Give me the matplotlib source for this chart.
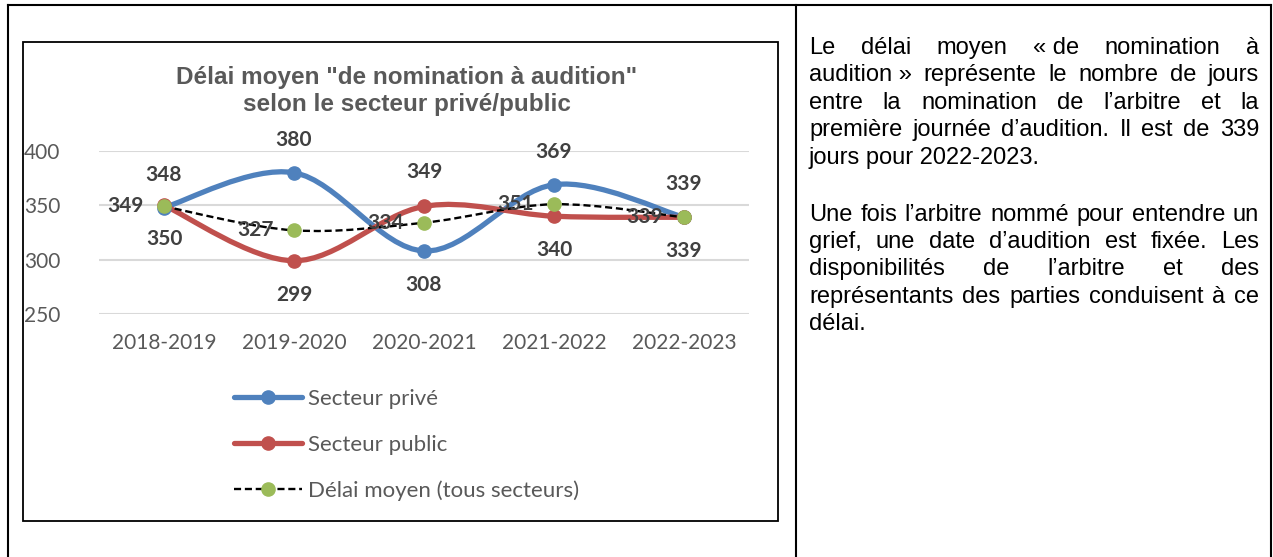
import numpy as np
import matplotlib
matplotlib.use("Agg")
import matplotlib.pyplot as plt
from matplotlib.path import Path
from matplotlib.patches import PathPatch, Rectangle
from matplotlib.lines import Line2D

# ---------------- données ----------------
annees = ["2018-2019", "2019-2020", "2020-2021", "2021-2022", "2022-2023"]
prive = [348, 380, 308, 369, 339]
public = [350, 299, 349, 340, 339]
moyen = [349, 327, 334, 351, 339]

noms = ["Secteur privé", "Secteur public", "Délai moyen (tous secteurs)"]
titre = 'Délai moyen "de nomination à audition"\nselon le secteur privé/public'

paragraphes = [
    ["Le délai moyen «\u00a0de nomination à",
     "audition\u00a0» représente le nombre de jours",
     "entre la nomination de l’arbitre et la",
     "première journée d’audition. Il est de 339",
     "jours pour 2022-2023."],
    ["Une fois l’arbitre nommé pour entendre un",
     "grief, une date d’audition est fixée. Les",
     "disponibilités de l’arbitre et des",
     "représentants des parties conduisent à ce",
     "délai."],
]

W, H = 1273, 557
BLEU, ROUGE, VERT = "#4F81BD", "#C0504D", "#9BBB59"
GRIS = "#595959"
POLICE = "Lato"


def fx(px):
    return px / W


def fy(py):
    return 1 - py / H


def courbe_lissee(x, y):
    # courbe lisse façon Excel (segments de Bézier)
    pts = np.column_stack([x, y]).astype(float)
    n = len(pts)
    verts = [pts[0]]
    codes = [Path.MOVETO]
    for i in range(n - 1):
        p0 = pts[max(i - 1, 0)]
        p1 = pts[i]
        p2 = pts[i + 1]
        p3 = pts[min(i + 2, n - 1)]
        verts += [p1 + (p2 - p0) / 6, p2 - (p3 - p1) / 6, p2]
        codes += [Path.CURVE4] * 3
    return Path(verts, codes)


fig = plt.figure(figsize=(W / 100, H / 100), dpi=100)

# ---------------- cadres ----------------
k = dict(color="black", lw=1.5, transform=fig.transFigure)
fig.add_artist(Line2D([fx(8), fx(1271)], [fy(5), fy(5)], **k))
fig.add_artist(Line2D([fx(8), fx(8)], [fy(5), 0], **k))
fig.add_artist(Line2D([fx(796), fx(796)], [fy(5), 0], **k))
fig.add_artist(Line2D([fx(1271), fx(1271)], [fy(5), 0], **k))
fig.add_artist(Rectangle((fx(23), fy(521)), fx(778) - fx(23), fy(42) - fy(521),
                         fill=False, ec="black", lw=1.3, transform=fig.transFigure))

# ---------------- graphique ----------------
ax = fig.add_axes([fx(99), fy(314), fx(749) - fx(99), fy(151) - fy(314)])
x = np.arange(len(annees))
ax.set_xlim(-0.5, len(annees) - 0.5)
ax.set_ylim(250, 400)
ax.set_yticks([250, 300, 350, 400])
ax.set_xticks(x)
ax.set_xticklabels(annees)
for s in ax.spines.values():
    s.set_visible(False)
ax.grid(axis="y", color="#D9D9D9", lw=1.5)
ax.set_axisbelow(True)
ax.tick_params(length=0, labelsize=15, labelcolor=GRIS, pad=14)
ax.tick_params(axis="y", pad=28)
for t in ax.get_xticklabels() + ax.get_yticklabels():
    t.set_fontfamily(POLICE)

ax.add_patch(PathPatch(courbe_lissee(x, prive), fill=False, ec=BLEU, lw=3.8,
                       capstyle="round", clip_on=False, zorder=3))
ax.add_patch(PathPatch(courbe_lissee(x, public), fill=False, ec=ROUGE, lw=3.8,
                       capstyle="round", clip_on=False, zorder=3))
ax.add_patch(PathPatch(courbe_lissee(x, moyen), fill=False, ec="black", lw=1.7,
                       ls=(0, (3, 1.6)), clip_on=False, zorder=4))
ax.plot(x, prive, "o", color=BLEU, ms=9.5, clip_on=False, zorder=5)
ax.plot(x, public, "o", color=ROUGE, ms=9.5, clip_on=False, zorder=5)
ax.plot(x, moyen, "o", color=VERT, ms=9.5, clip_on=False, zorder=6)

et = dict(fontsize=15, fontweight="bold", color="#404040", family=POLICE,
          ha="center", va="center", zorder=7)
for i in range(len(annees)):
    dy_p = -34 if i == 2 else 33
    ax.annotate(str(prive[i]), (x[i], prive[i]), xytext=(0, dy_p * 0.72),
                textcoords="offset points", **et)
    dy_q = 34 if i == 2 else -34
    ax.annotate(str(public[i]), (x[i], public[i]), xytext=(0, dy_q * 0.72),
                textcoords="offset points", **et)
    ax.annotate(str(moyen[i]), (x[i], moyen[i]), xytext=(-39 * 0.72, 0),
                textcoords="offset points", **et)

fig.text(fx(407), fy(91), titre, ha="center", va="center", fontsize=17.5,
         fontweight="bold", color=GRIS, family="Liberation Sans", linespacing=1.25)

poignees = [
    Line2D([], [], color=BLEU, lw=3.8, marker="o", ms=9.5, solid_capstyle="round"),
    Line2D([], [], color=ROUGE, lw=3.8, marker="o", ms=9.5, solid_capstyle="round"),
    Line2D([], [], color="black", lw=1.7, ls=(0, (3, 1.6)), marker="o", ms=9.5,
           markerfacecolor=VERT, markeredgecolor=VERT),
]
leg = fig.legend(poignees, noms, loc="upper left", bbox_to_anchor=(fx(223), fy(378)),
                 frameon=False, borderpad=0, handlelength=3.05, handletextpad=0.27,
                 labelspacing=1.15, prop=dict(family=POLICE, size=16))
for t in leg.get_texts():
    t.set_color(GRIS)

# ---------------- texte justifié ----------------
renderer = fig.canvas.get_renderer()
x0, x1 = 809, 1259
ligne_y = 48
pas = 27.4
ft = dict(fontsize=17, family="Liberation Sans", color="black", va="center", ha="left")
for p in paragraphes:
    for j, ligne in enumerate(p):
        mots = ligne.split(" ")
        if j == len(p) - 1:
            fig.text(fx(x0), fy(ligne_y), ligne, **ft)
        else:
            objs = [fig.text(0, fy(ligne_y), m, **ft) for m in mots]
            larg = [o.get_window_extent(renderer).width for o in objs]
            espace = (x1 - x0 - sum(larg)) / (len(mots) - 1)
            pos = x0
            for o, l in zip(objs, larg):
                o.set_x(fx(pos))
                pos += l + espace
        ligne_y += pas
    ligne_y += pas * 1.08

fig.savefig("out.png", dpi=100)
